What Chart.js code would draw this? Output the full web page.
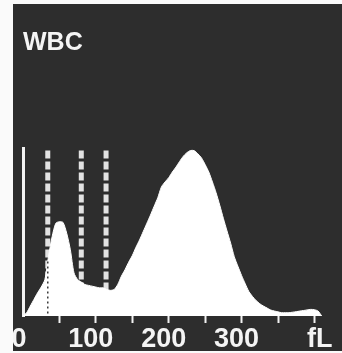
<!DOCTYPE html>
<html>
<head>
<meta charset="utf-8">
<script src="https://cdn.jsdelivr.net/npm/chart.js@4/dist/chart.umd.min.js"></script>
<style>
  html, body { margin: 0; padding: 0; background: #fafafa; }
  #panel { position: absolute; left: 13px; top: 4px; width: 329px; height: 347px; background: #2d2d2d; }
  canvas { display: block; }
</style>
</head>
<body>
<div id="panel"><canvas id="c" width="329" height="347"></canvas></div>
<script>
// WBC volume histogram: cell size (fL) against relative count
const sizes = [0,5,10,15,20,25,30,35,40,45,50,55,60,65,70,75,80,85,90,95,100,105,110,115,120,125,130,135,140,145,150,155,160,165,170,175,180,185,190,195,200,205,210,215,220,225,230,235,240,245,250,255,260,265,270,275,280,285,290,295,300,305,310,315,320,325,330,335,340,345,350,355,360,365,370,375,380,385,390,395,400,405,410];
const counts = [0,2,6,10,14,17.5,22,36,48,56,57,56.5,50,40,26,22,20.5,19,18.5,18,17.5,17,17,16,15.5,16,19,24,28,32.5,36.5,41.5,46,51,56,61,66.3,71.5,78,81,83.6,87,90,93.4,96.5,98.7,100,99.9,98,95.5,91.5,87,81,74.5,67,59,51.4,44,35.8,30,24.5,19.5,14.8,11.8,9.3,7.4,6,4.8,3.6,3,2.5,2,2,2,2.3,2.6,3,3.3,3.7,4,3.8,3,0];

// discriminator positions (fL)
const cutoffs = [34, 80, 114];
// height of the histogram where the first discriminator crosses it
const firstCutInnerTop = 33;

// axis labels: value -> text ("0" and "fL" sit on label-only positions without a tick mark)
const tickValues = [1.4, 50, 100, 150, 200, 250, 300, 350, 400, 414];
const tickLabels = { 1.4: '0', 100: '100', 200: '200', 300: '300', 414: 'fL' };
const markless = [1.4, 414];

const histPoints = sizes.map((s, i) => ({ x: s, y: counts[i] }));

const cutDatasets = cutoffs.map(c => ({
  data: [{ x: c, y: 100 }, { x: c, y: 0 }],
  borderColor: '#e2e2e2',
  borderWidth: 5,
  borderDash: [8, 3],
  pointRadius: 0,
  fill: false,
  order: 3
}));

new Chart(document.getElementById('c'), {
  type: 'line',
  data: {
    datasets: [
      {
        data: histPoints,
        borderColor: '#ffffff',
        backgroundColor: '#ffffff',
        borderWidth: 1,
        pointRadius: 0,
        tension: 0.25,
        fill: 'origin',
        order: 2
      },
      ...cutDatasets,
      {
        data: [{ x: cutoffs[0], y: firstCutInnerTop }, { x: cutoffs[0], y: 0 }],
        borderColor: '#3a3a3a',
        borderWidth: 1.5,
        borderDash: [2, 3],
        pointRadius: 0,
        fill: false,
        order: 1
      }
    ]
  },
  options: {
    responsive: false,
    animation: false,
    events: [],
    layout: { autoPadding: false, padding: { left: 10, right: 13, top: 0, bottom: 0 } },
    plugins: {
      legend: { display: false },
      tooltip: { enabled: false },
      title: {
        display: true,
        text: 'WBC',
        align: 'start',
        color: '#f4f4f4',
        font: { family: 'Liberation Sans', size: 25, weight: 'bold', lineHeight: 1 },
        padding: { top: 27, bottom: 92 }
      }
    },
    scales: {
      x: {
        type: 'linear',
        min: 0,
        max: 420,
        afterBuildTicks: axis => { axis.ticks = tickValues.map(v => ({ value: v })); },
        // keep the axis band a fixed height so the plot baseline stays put
        afterFit: axis => { axis.height = 35; },
        ticks: {
          autoSkip: false,
          maxRotation: 0,
          padding: 3,
          labelOffset: -5,
          color: '#f4f4f4',
          font: { family: 'Liberation Sans', size: 27, weight: 'bold', lineHeight: 1 },
          callback: v => tickLabels[v] !== undefined ? tickLabels[v] : ''
        },
        grid: {
          display: true,
          drawOnChartArea: false,
          drawTicks: true,
          tickLength: 7,
          tickWidth: 2,
          tickColor: ctx => (ctx.tick && markless.includes(ctx.tick.value)) ? 'rgba(0,0,0,0)' : '#f2f2f2'
        },
        border: { display: false }
      },
      y: {
        min: 0,
        max: 101.5,
        ticks: { display: false },
        grid: { display: false, drawTicks: false },
        border: { display: true, color: '#f2f2f2', width: 3 }
      }
    }
  }
});
</script>
</body>
</html>
